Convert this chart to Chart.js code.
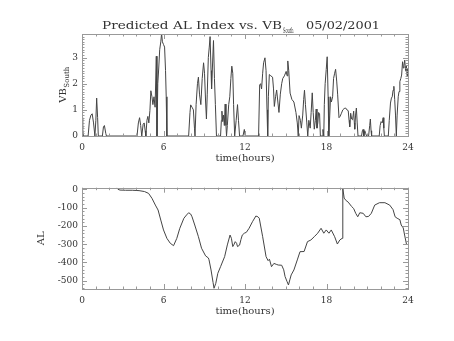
<!DOCTYPE html>
<html><head><meta charset="utf-8">
<script src="https://cdn.jsdelivr.net/npm/chart.js@4.4.0/dist/chart.umd.min.js"></script>
<style>
body{margin:0;background:#fff;width:454px;height:341px;overflow:hidden;position:relative}
canvas{position:absolute;left:0}
</style></head><body>
<canvas id="c1" width="454" height="170" style="top:0"></canvas>
<canvas id="c2" width="454" height="171" style="top:170px"></canvas>
<script>
const xTicks = [0, 6, 12, 18, 24];
const vbTicks = [0, 1, 2, 3];
const alTicks = [0, -100, -200, -300, -400, -500];

const vbHours = [0.00,0.05,0.10,0.45,0.55,0.66,0.75,0.85,0.95,1.02,1.08,1.15,1.20,1.50,1.58,1.65,1.75,1.80,
4.05,4.15,4.24,4.32,4.40,4.50,4.58,4.65,4.70,4.78,4.85,4.92,5.00,5.07,5.15,5.22,5.30,5.38,5.47,5.52,5.58,5.65,5.72,5.80,5.86,5.92,6.00,6.08,6.15,6.20,6.25,
7.85,7.95,8.00,8.10,8.20,8.28,8.32,8.40,8.50,8.57,8.65,8.75,8.85,8.95,9.02,9.10,9.16,9.22,9.30,9.37,9.43,9.50,9.54,9.60,9.68,9.75,9.82,9.90,
10.20,10.26,10.30,10.36,10.42,10.48,10.54,10.60,10.64,10.70,10.80,10.88,10.96,11.03,11.10,11.16,11.24,11.35,11.45,11.52,11.60,11.85,11.95,12.02,
13.00,13.08,13.15,13.22,13.30,13.37,13.47,13.55,13.62,13.67,13.72,13.79,13.90,14.03,14.10,14.16,14.25,14.33,14.42,14.50,14.60,14.70,14.78,14.90,15.03,15.10,15.15,15.22,15.32,15.45,15.60,15.75,15.85,15.92,
15.98,16.08,16.15,16.25,16.32,16.38,16.45,16.55,16.62,16.70,16.80,16.87,16.95,17.02,17.10,17.18,17.24,17.30,17.36,17.42,17.49,17.55,17.68,17.74,17.80,
17.84,17.90,17.98,18.05,18.12,18.17,18.24,18.30,18.36,18.45,18.52,18.60,18.67,18.75,18.82,18.92,19.00,19.10,19.20,19.30,19.41,19.50,19.60,19.66,19.71,19.78,19.85,19.92,20.00,20.05,20.08,20.14,20.20,20.26,20.32,
20.58,20.64,20.69,20.75,20.82,20.88,20.95,21.10,21.18,21.23,21.28,21.32,21.88,21.95,22.02,22.10,22.17,22.22,22.26,
22.55,22.62,22.71,22.78,22.84,22.90,22.96,23.02,23.08,23.14,23.20,23.28,23.34,23.40,23.47,23.53,23.60,23.65,23.70,23.76,23.82,23.88,23.93,23.97];
const vbValues = [0.7,0.3,0,0,0.6,0.8,0.85,0.5,0,0.6,1.45,0.7,0,0,0.35,0.4,0.1,0,
0,0.5,0.7,0.4,0,0.45,0.5,0.2,0,0.6,0.75,0.5,0.97,1.73,1.5,1.2,1.5,1.1,3.05,0,2.0,2.6,3.3,3.6,3.92,3.6,3.5,3.4,2.5,1.5,0,
0,0.9,1.19,1.1,1.0,0.3,0,1.2,2.0,2.25,1.6,1.2,2.2,2.8,2.4,1.3,0.65,1.6,3.0,3.4,3.8,2.5,1.8,2.6,3.65,2.2,1.2,0,
0,0.6,0.95,0.55,0.8,0.4,1.22,0.4,0,0.4,1.2,1.5,2.2,2.67,2.4,1.2,0,0.6,1.2,0.6,0,0,0.25,0,
0,1.95,2.0,1.8,2.4,2.8,2.99,2.5,1.0,0,1.5,2.35,2.3,2.25,1.8,1.13,1.5,1.76,1.3,0.9,1.6,2.0,2.2,2.3,2.47,2.3,2.87,2.5,1.64,1.4,1.3,0.9,0.5,0,
0.78,0.6,0.3,0.8,1.4,1.75,1.2,0.5,0,0.6,0.3,0.9,1.65,0.9,0.26,0.6,1.03,0.3,0.5,0.9,0.85,0,0,0.25,0,
1.2,2.0,2.54,3.03,1.5,0,0.8,1.5,1.3,1.5,2.2,2.4,2.55,2.1,1.6,0.7,0.75,0.87,1.0,1.05,1.07,1.0,0.97,0.6,0.35,0.87,0.65,0.62,0.95,0.5,0.26,0.8,1.07,0.5,0,
0,0.2,0.25,0,0.2,0.1,0,0,0.4,0.65,0.2,0,0,0.4,0.55,0.5,0.7,0.3,0,
0,0.6,1.26,1.45,1.5,1.75,1.9,1.4,0.8,0,0.8,1.5,1.7,2.08,2.2,2.33,2.84,2.6,2.7,2.9,2.5,2.7,2.3,2.6];

const alHours = [2.57,2.65,2.8,3.2,3.7,4.2,4.6,4.9,5.15,5.4,5.6,5.8,6.0,6.25,6.5,6.74,6.98,7.2,7.5,7.7,7.85,8.0,8.1,8.3,8.57,8.8,9.1,9.3,9.35,9.5,9.65,9.72,9.85,
10.0,10.2,10.5,10.7,10.9,11.0,11.1,11.2,11.28,11.38,11.45,11.6,11.7,11.8,11.95,12.1,12.3,12.55,12.8,12.95,13.05,13.3,13.55,13.7,13.8,13.95,14.13,14.3,14.45,14.7,14.85,14.95,
15.1,15.2,15.3,15.4,15.6,15.85,16.05,16.35,16.6,16.85,17.1,17.35,17.6,17.8,17.98,18.18,18.35,18.6,18.8,18.98,19.15,19.2,19.3,19.45,19.6,19.85,20.0,20.15,20.3,20.45,20.7,20.9,
21.1,21.3,21.55,21.9,22.3,22.65,22.9,23.05,23.2,23.4,23.5,23.65,23.75,23.9];
const alValues = [9,0,-4,-5,-5,-7,-12,-22,-49,-86,-113,-168,-222,-268,-295,-308,-268,-213,-158,-140,-128,-135,-150,-195,-259,-322,-364,-375,-385,-441,-510,-541,-514,
-459,-423,-368,-304,-250,-268,-313,-300,-286,-295,-313,-305,-275,-250,-240,-235,-213,-177,-146,-150,-158,-259,-368,-390,-382,-423,-405,-410,-414,-415,-440,-477,
-505,-523,-495,-468,-441,-386,-341,-340,-286,-277,-259,-240,-213,-240,-222,-240,-222,-259,-299,-277,-268,5,-48,-62,-70,-94,-105,-131,-150,-128,-131,-150,
-148,-131,-86,-73,-73,-86,-111,-150,-158,-166,-195,-211,-250,-304];

const FONT = "'DejaVu Serif'";
const INK = '#333';
const FRAME = '#999';

const toPts = (xs, ys) => xs.map((x, i) => ({x: x, y: ys[i]}));

// IDL-style frame with inward ticks on all four sides
const idlFrame = {
  id: 'idlFrame',
  afterDatasetsDraw(chart, args, o) {
    const ctx = chart.ctx, a = chart.chartArea;
    const xs = chart.scales.x, ys = chart.scales.y;
    ctx.save();
    ctx.strokeStyle = FRAME; ctx.lineWidth = 1;
    ctx.strokeRect(Math.round(a.left) + 0.5, Math.round(a.top) + 0.5,
                   Math.round(a.right - a.left), Math.round(a.bottom - a.top));
    ctx.beginPath();
    for (let h = xs.min; h <= xs.max + 1e-9; h += o.xMinor) {
      const p = Math.round(xs.getPixelForValue(h)) + 0.5;
      const L = (Math.abs(h % 6) < 1e-6) ? 5 : 2.5;
      ctx.moveTo(p, a.bottom); ctx.lineTo(p, a.bottom - L);
      ctx.moveTo(p, a.top); ctx.lineTo(p, a.top + L);
    }
    const start = Math.ceil(ys.min / o.yMinor - 1e-9) * o.yMinor;
    for (let v = start; v <= ys.max + 1e-9; v += o.yMinor) {
      const p = Math.round(ys.getPixelForValue(v)) + 0.5;
      const major = o.yMajor.some(m => Math.abs(m - v) < 1e-6);
      const L = major ? 5 : 2.5;
      ctx.moveTo(a.left, p); ctx.lineTo(a.left + L, p);
      ctx.moveTo(a.right, p); ctx.lineTo(a.right - L, p);
    }
    ctx.stroke();
    ctx.restore();
  }
};

// text with subscript, drawn by custom plugin
const idlText = {
  id: 'idlText',
  afterDraw(chart, args, o) {
    const ctx = chart.ctx, a = chart.chartArea;
    ctx.save();
    ctx.fillStyle = INK;
    ctx.textBaseline = 'alphabetic';
    if (o.title) {
      const put = (txt, x, y, size, w) => {
        ctx.font = size + 'px ' + FONT;
        const m = ctx.measureText(txt).width;
        ctx.save(); ctx.translate(x, y); ctx.scale(w / m, 1);
        ctx.textAlign = 'left'; ctx.fillText(txt, 0, 0); ctx.restore();
      };
      put('Predicted AL Index vs. VB', 102, 29.3, 11, 180);
      put('South', 283, 32.6, 7.5, 10.5);
      put('05/02/2001', 306, 29.3, 11, 74);
    }
    // y axis label (rotated)
    const cy = (a.top + a.bottom) / 2;
    ctx.translate(o.yLabelX, cy);
    ctx.rotate(-Math.PI / 2);
    ctx.font = '10px ' + FONT;
    const main = o.yLabel, sub = o.ySub || '';
    const mw = ctx.measureText(main).width;
    ctx.font = '7px ' + FONT;
    const sw = sub ? ctx.measureText(sub).width : 0;
    let x0 = -(mw + sw) / 2;
    ctx.font = '10px ' + FONT;
    ctx.textAlign = 'left';
    ctx.fillText(main, x0, 3.5);
    if (sub) { ctx.font = '7px ' + FONT; ctx.fillText(sub, x0 + mw + 0.5, 6.5); }
    ctx.restore();
  }
};

function makeChart(id, pts, yMin, yMax, yTicks, yMinor, yLabel, ySub, yLabelX, topPad, title) {
  return new Chart(document.getElementById(id), {
    type: 'line',
    data: { datasets: [{ data: pts, borderColor: '#444', borderWidth: 1, pointRadius: 0, tension: 0, fill: false }] },
    options: {
      responsive: false, animation: false, devicePixelRatio: 1,
      layout: { padding: { left: 0, right: 46, top: topPad, bottom: 0 } },
      plugins: { legend: { display: false }, tooltip: { enabled: false },
        idlFrame: { xMinor: 1, yMinor: yMinor, yMajor: yTicks },
        idlText: { title: title, yLabel: yLabel, ySub: ySub, yLabelX: yLabelX } },
      scales: {
        x: { type: 'linear', min: 0, max: 24, border: { display: false },
             grid: { display: false, drawTicks: false },
             afterBuildTicks: s => { s.ticks = xTicks.map(v => ({ value: v })); },
             afterFit: s => { s.height = title ? 34 : 52; },
             ticks: { padding: 6, color: INK, font: { family: FONT, size: 9 }, maxRotation: 0, autoSkip: false },
             title: { display: true, text: 'time(hours)', color: INK, font: { family: FONT, size: 10 },
                      padding: { top: 0, bottom: title ? 6 : 24 } } },
        y: { type: 'linear', min: yMin, max: yMax, border: { display: false },
             grid: { display: false, drawTicks: false },
             afterBuildTicks: s => { s.ticks = yTicks.map(v => ({ value: v })); },
             afterFit: s => { s.width = 82; },
             ticks: { padding: 4, color: INK, font: { family: FONT, size: 9 }, autoSkip: false } }
      }
    },
    plugins: [idlFrame, idlText]
  });
}

makeChart('c1', toPts(vbHours, vbValues), 0, 3.9, vbTicks, 0.1, 'VB', 'South', 62, 34, true);
makeChart('c2', toPts(alHours, alValues), -545, 9, alTicks, 20, 'AL', '', 40, 17.7, false);
</script>
</body></html>
